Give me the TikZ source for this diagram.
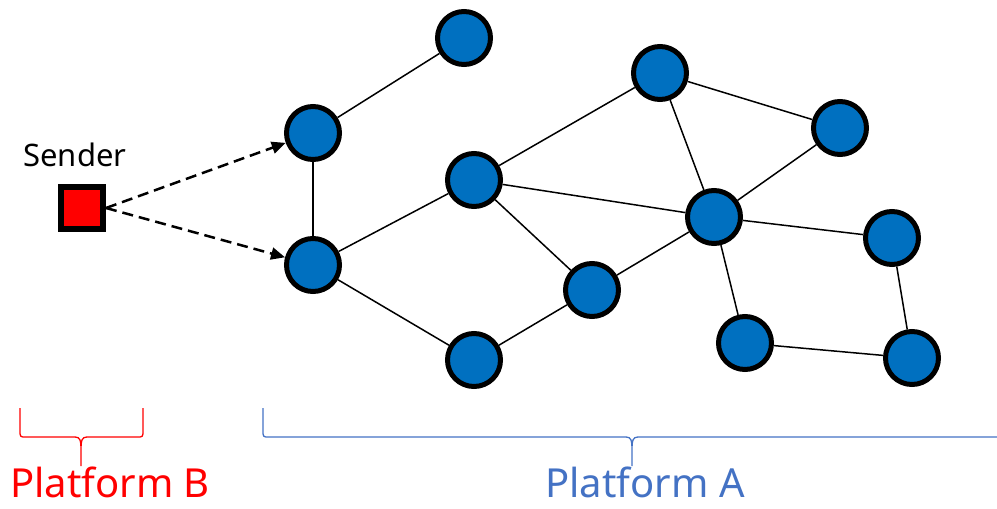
\documentclass[tikz,border=0pt]{standalone}
\usepackage{fontspec}
\setmainfont{Noto Sans}
\usetikzlibrary{arrows.meta}
\definecolor{nodeblue}{HTML}{0070C0}
\definecolor{platblue}{HTML}{4472C4}
\definecolor{platred}{HTML}{FF0000}
\tikzset{
  peer/.style={circle, draw=black, fill=nodeblue, line width=5pt, minimum size=53pt, inner sep=0pt},
  senderbox/.style={rectangle, draw=black, fill=platred, line width=6pt, minimum size=42pt, inner sep=0pt},
  link/.style={line width=1.5pt, black},
  probe/.style={line width=2.5pt, black, dash pattern=on 11pt off 6pt, -{Triangle[length=14pt,width=12pt]}},
  bracepath/.style={line width=1.3pt},
  platlabel/.style={font=\fontsize{40}{44}\selectfont, anchor=base, inner sep=0pt},
}
\begin{document}
\begin{tikzpicture}[x=1pt,y=-1pt]
\useasboundingbox (0,0) rectangle (997,509);
\node[peer] (n1) at (464,38) {};
\node[peer] (n2) at (313,133) {};
\node[peer] (n3) at (313,265) {};
\node[peer] (n4) at (474,180) {};
\node[peer] (n5) at (660,73) {};
\node[peer] (n6) at (840,128) {};
\node[peer] (n7) at (714,217) {};
\node[peer] (n8) at (892,238) {};
\node[peer] (n9) at (592,290) {};
\node[peer] (n10) at (474,360) {};
\node[peer] (n11) at (745,343) {};
\node[peer] (n12) at (912,358) {};
\foreach \a/\b in {n1/n2, n2/n3, n3/n4, n3/n10, n4/n5, n4/n7, n4/n9, n5/n6, n5/n7, n6/n7, n7/n8, n7/n9, n9/n10, n7/n11, n8/n12, n11/n12}
  \draw[link] (\a) -- (\b);
\node[senderbox] (s) at (82,208) {};
\node[font=\fontsize{31}{36}\selectfont, anchor=base, inner sep=0pt] (slabel) at (75,166) {Sender};
\draw[probe] (s.east) -- (n2);
\draw[probe] (s.east) -- (n3);
% Platform B brace
\coordinate (bL) at (20,408);
\coordinate (bR) at (143,408);
\coordinate (bT) at (81,466);
\draw[bracepath, platred] (bL) -- (20,430) .. controls (20,437) .. (26,437) -- (75,437)
  .. controls (80,437) and (81,440) .. (81,450) -- (bT)
  (81,450) .. controls (81,440) and (82,437) .. (87,437) -- (137,437)
  .. controls (143,437) .. (143,430) -- (bR);
\node[platlabel, text=platred] (pB) at (110,497) {Platform B};
% Platform A brace
\coordinate (aL) at (263,408);
\coordinate (aT) at (632,466);
\draw[bracepath, platblue] (aL) -- (263,430) .. controls (263,437) .. (269,437) -- (626,437)
  .. controls (631,437) and (632,440) .. (632,450) -- (aT)
  (632,450) .. controls (632,440) and (633,437) .. (638,437) -- (1000,437);
\node[platlabel, text=platblue] (pA) at (645,497) {Platform A};
\end{tikzpicture}
\end{document}
